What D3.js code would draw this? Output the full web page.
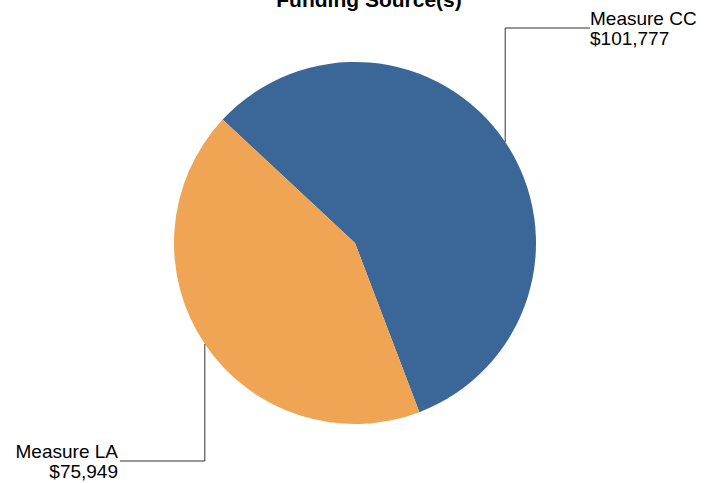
<!DOCTYPE html>
<html>
<head>
<meta charset="utf-8">
<script src="https://cdn.jsdelivr.net/npm/d3@7"></script>
<style>
  body { margin: 0; background: #fff; }
  text { font-family: "Liberation Sans", Arial, sans-serif; fill: #000; }
</style>
</head>
<body>
<div id="chart"></div>
<script>
// data
var sources = ["Measure CC", "Measure LA"];
var amounts = [101777, 75949];
var colors = ["#3b6698", "#efa553"];

var width = 716,
    height = 483,
    cx = 355,
    cy = 243,
    radius = 181;

var svg = d3.select("#chart")
    .append("svg")
    .attr("width", width)
    .attr("height", height);

svg.append("text")
    .attr("x", 369)
    .attr("y", 7)
    .attr("text-anchor", "middle")
    .style("font-size", "21px")
    .style("font-weight", "bold")
    .text("Funding Source(s)");

var start = -47 * Math.PI / 180;
var pie = d3.pie()
    .sort(null)
    .value(d => d.value)
    .startAngle(start)
    .endAngle(start + 2 * Math.PI);

var arc = d3.arc().innerRadius(0).outerRadius(radius);

var data = sources.map((s, i) => ({ name: s, value: amounts[i], color: colors[i] }));
var arcs = pie(data);

var g = svg.append("g").attr("transform", "translate(" + cx + "," + cy + ")");

g.selectAll("path")
    .data(arcs)
    .enter()
    .append("path")
    .attr("d", arc)
    .attr("fill", d => d.data.color);

// label positions (y of the first text line, relative to centre)
var labelY = [25 - cy, 458 - cy];
var fmt = d3.format("$,");

arcs.forEach(function(d, i) {
    var mid = (d.startAngle + d.endAngle) / 2;
    var ax = radius * Math.sin(mid),
        ay = -radius * Math.cos(mid);
    var right = ax > 0;
    var ly = labelY[i] + 3;
    var lx = right ? 235 : -235;
    g.append("polyline")
        .attr("points", [[ax, ay], [ax, ly], [lx, ly]].map(p => p.join(",")).join(" "))
        .attr("fill", "none")
        .attr("stroke", "#333")
        .attr("stroke-width", 1);
    var t = g.append("text")
        .attr("text-anchor", right ? "start" : "end")
        .style("font-size", "19px");
    t.append("tspan")
        .attr("x", right ? lx : lx - 2)
        .attr("y", labelY[i])
        .text(d.data.name);
    t.append("tspan")
        .attr("x", right ? lx : lx - 2)
        .attr("y", labelY[i] + 20)
        .text(fmt(d.data.value));
});
</script>
</body>
</html>
